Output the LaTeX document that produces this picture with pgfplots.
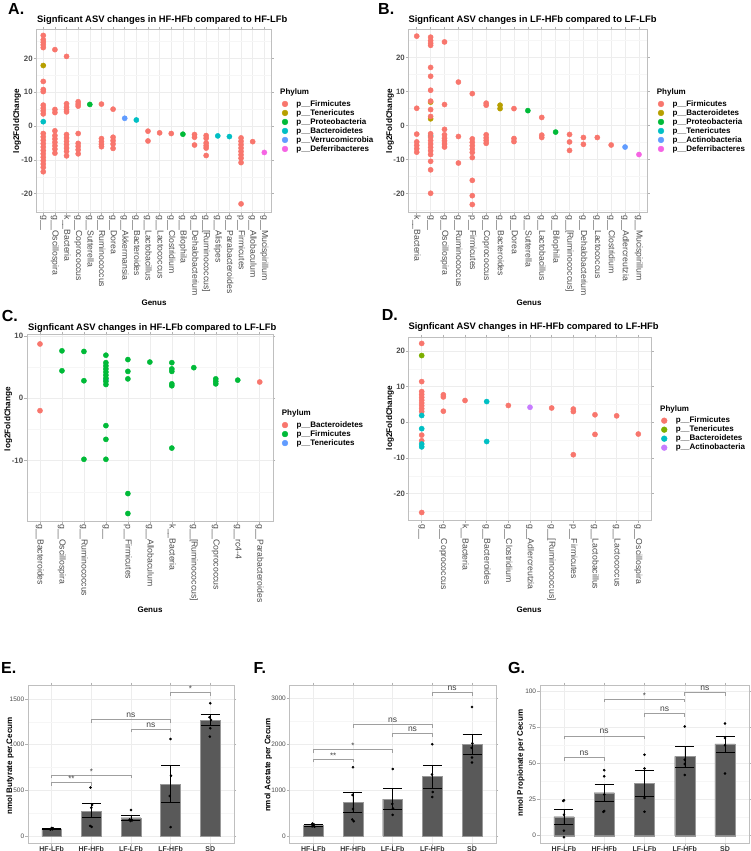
\documentclass[border=0pt]{standalone}
\usepackage{fontspec}
\setmainfont{Liberation Sans}
\usepackage{pgfplots}
\pgfplotsset{compat=1.18}
\newcommand\fs[1]{\fontsize{#1}{#1}\selectfont}
\definecolor{cR}{HTML}{F8766D}
\definecolor{cO}{HTML}{B79F00}
\definecolor{cG}{HTML}{00BA38}
\definecolor{cT}{HTML}{00BFC4}
\definecolor{cB}{HTML}{619CFF}
\definecolor{cM}{HTML}{F564E3}
\definecolor{cL}{HTML}{7CAE00}
\definecolor{cP}{HTML}{C77CFF}
\definecolor{barc}{HTML}{595959}
\pgfplotsset{
 volc/.style={scale only axis, anchor=north west,
  axis line style={gray!50, line width=0.6pt},
  xmajorgrids, ymajorgrids, yminorgrids,
  major grid style={gray!14, line width=0.5pt},
  minor grid style={gray!7, line width=0.3pt},
  tick align=outside, major tick length=2.5pt, minor tick length=0pt,
  tick style={gray!60, line width=0.5pt},
  xticklabel style={rotate=-90, anchor=west, font=\fs{8.7}, text=black!70, inner sep=1pt},
  yticklabel style={font=\bfseries\fs{7.8}, text=black!70, inner sep=1pt},
  legend style={draw=none, fill=none, anchor=north west, inner sep=0pt, outer sep=0pt,
   font=\bfseries\fs{8}, nodes={inner sep=0.5pt, text height=6.3pt, text depth=1.7pt},
   row sep=0pt, column sep=0pt},
  legend cell align=left},
 lg/.style={only marks, mark=*, mark size=2.9pt, color=#1,
  legend image code/.code={\draw[##1] plot coordinates {(0pt,0pt)}; \path[draw=none,fill=none] (-3pt,0pt) -- (11pt,0pt);}},
 pt/.style={only marks, mark=*, mark size=2.6pt, color=#1, forget plot},
 barax/.style={scale only axis, anchor=north west, xmin=0.4, xmax=5.6,
  xtick={1,...,5}, xticklabels={HF-LFb,HF-HFb,LF-LFb,LF-HFb,SD},
  axis line style={gray!50, line width=0.6pt},
  xmajorgrids, ymajorgrids, yminorgrids,
  major grid style={gray!14, line width=0.5pt},
  minor grid style={gray!7, line width=0.3pt},
  tick align=outside, major tick length=2.5pt, minor tick length=0pt,
  tick style={gray!60, line width=0.5pt},
  xticklabel style={font=\bfseries\fs{7}, text=black!80, inner sep=1pt},
  yticklabel style={font=\fs{6.5}, text=black!70, inner sep=1pt}},
 bars/.style={ybar, bar width=0.5, fill=barc, draw=black!40, line width=0.4pt,
  error bars/.cd, y dir=both, y explicit,
  error bar style={black, line width=0.5pt},
  error mark options={rotate=90, mark size=9.5pt, black, line width=0.5pt}},
 dots/.style={only marks, mark=*, mark size=1.1pt, black},
 brk/.style={gray!75, line width=0.6pt, no marks},
}
\begin{document}
\begin{tikzpicture}
\useasboundingbox (0pt,0pt) rectangle (750pt,-851pt);

% ---------------- A ----------------
\begin{axis}[volc, at={(36.3pt,-29pt)}, width=235pt, height=183pt,
 xmin=-0.6, xmax=19.6, ymin=-25.4, ymax=28.7,
 xtick={0,...,19},
 xticklabels={{g\_\_},{g\_\_Oscillospira},{k\_\_Bacteria},{g\_\_Coprococcus},{g\_\_Sutterella},{g\_\_Ruminococcus},{g\_\_Dorea},{g\_\_Akkermansia},{g\_\_Bacteroides},{g\_\_Lactobacillus},{g\_\_Lactococcus},{g\_\_Clostridium},{g\_\_Bilophila},{g\_\_Dehalobacterium},{g\_\_[Ruminococcus]},{g\_\_Alistipes},{g\_\_Parabacteroides},{p\_\_Firmicutes},{g\_\_Allobaculum},{g\_\_Mucispirillum}},
 ytick={-20,-10,0,10,20}, yticklabels={-20,-10,0,10,20},
 minor ytick={-25,-15,-5,5,15,25},
 legend style={at={(axis description cs:1.0455,0.615)}}]
\addlegendimage{lg=cR}\addlegendentry{p\_\_Firmicutes}
\addlegendimage{lg=cO}\addlegendentry{p\_\_Tenericutes}
\addlegendimage{lg=cG}\addlegendentry{p\_\_Proteobacteria}
\addlegendimage{lg=cT}\addlegendentry{p\_\_Bacteroidetes}
\addlegendimage{lg=cB}\addlegendentry{p\_\_Verrucomicrobia}
\addlegendimage{lg=cM}\addlegendentry{p\_\_Deferribacteres}
\addplot[pt=cR] coordinates {(0,26.8)(0,25.5)(0,24.8)(0,24.0)(0,23.2)(0,13.2)(0,10.8)(0,10.2)(0,6.2)(0,5.3)(0,4.5)(0,3.6)(0,-2.2)(0,-3.2)(0,-4.2)(0,-5.2)(0,-6.2)(0,-7.2)(0,-8.2)(0,-9.2)(0,-10.2)(0,-11.2)(0,-12.2)(0,-13.5)
(1,22.6)(1,4.9)(1,4.0)(1,-1.4)(1,-2.8)(1,-3.8)(1,-4.8)(1,-5.8)(1,-6.8)(1,-8.0)
(2,20.6)(2,6.6)(2,5.6)(2,4.8)(2,4.2)(2,-2.5)(2,-3.5)(2,-4.5)(2,-5.5)(2,-6.5)(2,-7.5)(2,-8.8)
(3,7.2)(3,6.5)(3,5.9)(3,-2.2)(3,-5.1)(3,-6.0)(3,-7.0)(3,-8.2)
(5,6.5)(5,-3.7)(5,-4.6)(5,-5.4)(5,-6.1)
(6,5.0)(6,-3.3)(6,-4.3)(6,-5.3)(6,-6.6)
(9,-1.5)(9,-4.4)(10,-2.0)(11,-2.2)
(13,-2.5)(13,-3.3)(13,-5.6)
(14,-2.8)(14,-3.6)(14,-5.0)(14,-5.8)(14,-6.5)(14,-8.7)
(17,-3.5)(17,-4.5)(17,-5.5)(17,-6.5)(17,-7.5)(17,-8.5)(17,-9.5)(17,-10.8)(17,-23.0)
(18,-4.6)};
\addplot[pt=cO] coordinates {(0,17.9)};
\addplot[pt=cG] coordinates {(4,6.4)(12,-2.4)};
\addplot[pt=cT] coordinates {(0,1.3)(8,1.8)(15,-2.9)(16,-3.1)};
\addplot[pt=cB] coordinates {(7,2.3)};
\addplot[pt=cM] coordinates {(19,-7.8)};
\end{axis}

% ---------------- B ----------------
\begin{axis}[volc, at={(408.4pt,-29pt)}, width=238.9pt, height=183pt,
 xmin=-0.6, xmax=16.6, ymin=-25.4, ymax=28.4,
 xtick={0,...,16},
 xticklabels={{k\_\_Bacteria},{g\_\_},{g\_\_Oscillospira},{g\_\_Ruminococcus},{p\_\_Firmicutes},{g\_\_Coprococcus},{g\_\_Bacteroides},{g\_\_Dorea},{g\_\_Sutterella},{g\_\_Lactobacillus},{g\_\_Bilophila},{g\_\_[Ruminococcus]},{g\_\_Dehalobacterium},{g\_\_Lactococcus},{g\_\_Clostridium},{g\_\_Adlercreutzia},{g\_\_Mucispirillum}},
 ytick={-20,-10,0,10,20}, yticklabels={-20,-10,0,10,20},
 minor ytick={-25,-15,-5,5,15,25},
 legend style={at={(axis description cs:1.0448,0.615)}}]
\addlegendimage{lg=cR}\addlegendentry{p\_\_Firmicutes}
\addlegendimage{lg=cO}\addlegendentry{p\_\_Bacteroidetes}
\addlegendimage{lg=cG}\addlegendentry{p\_\_Proteobacteria}
\addlegendimage{lg=cT}\addlegendentry{p\_\_Tenericutes}
\addlegendimage{lg=cB}\addlegendentry{p\_\_Actinobacteria}
\addlegendimage{lg=cM}\addlegendentry{p\_\_Deferribacteres}
\addplot[pt=cO] coordinates {(1,6.9)(1,2.0)(6,6.0)(6,5.0)};
\addplot[pt=cT] coordinates {(1,-3.0)};
\addplot[pt=cR] coordinates {(0,26.3)(0,5.1)(0,-2.5)(0,-4.8)(0,-5.8)(0,-6.8)(0,-7.8)
(1,26.0)(1,25.0)(1,24.2)(1,23.6)(1,17.1)(1,14.5)(1,10.4)(1,7.2)(1,4.7)(1,2.7)(1,-2.4)(1,-3.4)(1,-4.4)(1,-5.4)(1,-6.4)(1,-7.4)(1,-8.5)(1,-10.5)(1,-13.0)(1,-19.9)
(2,24.6)(2,6.2)(2,-1.1)(2,-2.7)(2,-3.7)(2,-4.5)(2,-5.4)(2,-6.3)
(3,12.8)(3,-3.2)(3,-11.0)
(4,9.4)(4,-3.9)(4,-4.9)(4,-5.9)(4,-6.9)(4,-7.9)(4,-9.4)(4,-16.1)(4,-20.6)(4,-23.2)
(5,6.6)(5,6.0)(5,-2.7)(5,-3.6)(5,-4.4)(5,-5.2)
(7,5.0)(7,-3.8)(7,-4.7)
(9,2.4)(9,-2.8)(9,-3.5)
(11,-2.6)(11,-4.8)(11,-7.3)
(12,-3.5)(12,-5.5)(13,-3.5)(14,-5.7)};
\addplot[pt=cG] coordinates {(8,4.4)(10,-1.9)};
\addplot[pt=cB] coordinates {(15,-6.3)};
\addplot[pt=cM] coordinates {(16,-8.5)};
\end{axis}

% ---------------- C ----------------
\begin{axis}[volc, at={(26.8pt,-334pt)}, width=246.1pt, height=187pt,
 xmin=-0.6, xmax=10.6, ymin=-19.7, ymax=10.3,
 xtick={0,...,10},
 xticklabels={{g\_\_Bacteroides},{g\_\_Oscillospira},{g\_\_Ruminococcus},{g\_\_},{p\_\_Firmicutes},{g\_\_Allobaculum},{k\_\_Bacteria},{g\_\_[Ruminococcus]},{g\_\_Coprococcus},{g\_\_rc4-4},{g\_\_Parabacteroides}},
 ytick={-10,0,10}, yticklabels={-10,0,10},
 minor ytick={-15,-5,5},
 legend style={at={(axis description cs:1.037,0.537)}}]
\addlegendimage{lg=cR}\addlegendentry{p\_\_Bacteroidetes}
\addlegendimage{lg=cG}\addlegendentry{p\_\_Firmicutes}
\addlegendimage{lg=cB}\addlegendentry{p\_\_Tenericutes}
\addplot[pt=cB] coordinates {(3,3.0)};
\addplot[pt=cR] coordinates {(0,8.7)(0,-2.0)(10,2.6)};
\addplot[pt=cG] coordinates {(1,7.6)(1,4.4)
(2,7.5)(2,2.8)(2,-9.8)
(3,6.9)(3,5.7)(3,5.2)(3,4.7)(3,4.2)(3,3.7)(3,3.2)(3,2.7)(3,2.2)(3,-4.4)(3,-6.6)(3,-9.8)
(4,6.2)(4,4.3)(4,3.1)(4,-15.3)(4,-18.5)
(5,5.8)
(6,5.7)(6,4.7)(6,4.3)(6,2.3)(6,2.0)(6,-8.0)
(7,4.9)
(8,3.1)(8,2.7)(8,2.3)
(9,2.9)};
\end{axis}

% ---------------- D ----------------
\begin{axis}[volc, at={(408.7pt,-337pt)}, width=242.6pt, height=183.7pt,
 xmin=-0.6, xmax=10.6, ymin=-27.6, ymax=23.9,
 xtick={0,...,10},
 xticklabels={{g\_\_},{g\_\_Coprococcus},{k\_\_Bacteria},{g\_\_Bacteroides},{g\_\_Clostridium},{g\_\_Adlercreutzia},{g\_\_[Ruminococcus]},{p\_\_Firmicutes},{g\_\_Lactobacillus},{g\_\_Lactococcus},{g\_\_Oscillospira}},
 ytick={-20,-10,0,10,20}, yticklabels={-20,-10,0,10,20},
 minor ytick={-25,-15,-5,5,15},
 legend style={at={(axis description cs:1.041,0.569)}}]
\addlegendimage{lg=cR}\addlegendentry{p\_\_Firmicutes}
\addlegendimage{lg=cL}\addlegendentry{p\_\_Tenericutes}
\addlegendimage{lg=cT}\addlegendentry{p\_\_Bacteroidetes}
\addlegendimage{lg=cP}\addlegendentry{p\_\_Actinobacteria}
\addplot[pt=cR] coordinates {(0,22.1)(0,11.4)(0,8.6)(0,7.8)(0,7.0)(0,6.2)(0,5.4)(0,4.6)(0,3.8)(0,3.0)(0,-3.6)(0,-5.2)(0,-25.3)
(1,7.7)(1,7.1)(1,3.1)
(2,6.1)(4,4.7)(6,4.0)
(7,3.7)(7,3.0)(7,-9.1)
(8,2.1)(8,-3.4)(9,1.8)(10,-3.3)};
\addplot[pt=cL] coordinates {(0,18.7)};
\addplot[pt=cT] coordinates {(0,1.9)(0,-1.8)(0,-6.1)(0,-6.9)(3,5.8)(3,-5.4)};
\addplot[pt=cP] coordinates {(5,4.2)};
\end{axis}

% ---------------- E ----------------
\begin{axis}[barax, at={(27.9pt,-685pt)}, width=206.1pt, height=158pt,
 ymin=-76.6, ymax=1653, ytick={0,500,1000,1500}, yticklabels={0,500,1000,1500},
 minor ytick={250,750,1250}]
\addplot[bars] coordinates {(1,77) += (0,8) -= (0,8) (2,270) += (0,85) -= (0,70) (3,200) += (0,25) -= (0,22) (4,565) += (0,205) -= (0,200) (5,1266) += (0,64) -= (0,58)};
\addplot[dots] coordinates {(0.97,70)(1.02,75)(0.99,80)(1.03,85)(1.0,88)
(1.98,530)(2.02,340)(2.0,310)(1.97,110)(2.01,100)
(3.0,285)(2.97,180)(3.03,172)(2.99,165)
(4.0,1062)(4.01,660)(3.98,438)(4.0,98)
(5.0,1453)(4.98,1300)(5.02,1270)(5.0,1180)(4.99,1088)};
\addplot[brk] coordinates {(1,548)(1,584)(2,584)(2,548)};
\addplot[brk] coordinates {(1,632)(1,668)(3,668)(3,632)};
\addplot[brk] coordinates {(2,1241)(2,1277)(4,1277)(4,1241)};
\addplot[brk] coordinates {(3,1135)(3,1171)(4,1171)(4,1135)};
\addplot[brk] coordinates {(4,1537)(4,1573)(5,1573)(5,1537)};
\node[anchor=south, inner sep=0.5pt, font=\fs{8}, text=black!75] at (axis cs:1.5,584) {**};
\node[anchor=south, inner sep=0.5pt, font=\fs{8}, text=black!75] at (axis cs:2,668) {*};
\node[anchor=south, inner sep=0.5pt, yshift=1.2pt, font=\fs{8.5}, text=black!75] at (axis cs:3,1277) {ns};
\node[anchor=south, inner sep=0.5pt, yshift=1.2pt, font=\fs{8.5}, text=black!75] at (axis cs:3.5,1171) {ns};
\node[anchor=south, inner sep=0.5pt, font=\fs{8}, text=black!75] at (axis cs:4.5,1573) {*};
\end{axis}

% ---------------- F ----------------
\begin{axis}[barax, at={(289.5pt,-685pt)}, width=206.3pt, height=158pt,
 ymin=-152.5, ymax=3290, ytick={0,1000,2000,3000}, yticklabels={0,1000,2000,3000},
 minor ytick={500,1500,2500}]
\addplot[bars] coordinates {(1,232) += (0,25) -= (0,25) (2,733) += (0,217) -= (0,213) (3,806) += (0,224) -= (0,221) (4,1293) += (0,257) -= (0,253) (5,1997) += (0,223) -= (0,207)};
\addplot[dots] coordinates {(0.98,270)(1.02,250)(1.0,230)(0.97,210)(1.03,200)
(2.0,1500)(1.99,893)(2.0,590)(1.98,360)(2.02,320)
(3.0,1460)(2.99,700)(3.01,600)(3.0,460)
(4.0,2000)(3.99,1340)(4.01,960)(4.0,850)
(5.0,2810)(5.01,2020)(4.99,1920)(5.0,1710)(5.0,1600)};
\addplot[brk] coordinates {(1,1605)(1,1678)(2,1678)(2,1605)};
\addplot[brk] coordinates {(1,1808)(1,1881)(3,1881)(3,1808)};
\addplot[brk] coordinates {(2,2360)(2,2433)(4,2433)(4,2360)};
\addplot[brk] coordinates {(3,2164)(3,2237)(4,2237)(4,2164)};
\addplot[brk] coordinates {(4,3057)(4,3130)(5,3130)(5,3057)};
\node[anchor=south, inner sep=0.5pt, font=\fs{8}, text=black!75] at (axis cs:1.5,1678) {**};
\node[anchor=south, inner sep=0.5pt, font=\fs{8}, text=black!75] at (axis cs:2,1881) {*};
\node[anchor=south, inner sep=0.5pt, yshift=1.2pt, font=\fs{8.5}, text=black!75] at (axis cs:3,2433) {ns};
\node[anchor=south, inner sep=0.5pt, yshift=1.2pt, font=\fs{8.5}, text=black!75] at (axis cs:3.5,2237) {ns};
\node[anchor=south, inner sep=0.5pt, yshift=1.2pt, font=\fs{8.5}, text=black!75] at (axis cs:4.5,3130) {ns};
\end{axis}

% ---------------- G ----------------
\begin{axis}[barax, at={(539.8pt,-685pt)}, width=209.4pt, height=158pt,
 ymin=-5.04, ymax=104.1, ytick={0,25,50,75,100}, yticklabels={0,25,50,75,100},
 minor ytick={12.5,37.5,62.5,87.5}]
\addplot[bars] coordinates {(1,13.1) += (0,5.4) -= (0,5.1) (2,29.7) += (0,6) -= (0,6.2) (3,36) += (0,9) -= (0,9) (4,54.8) += (0,7.2) -= (0,7.3) (5,63.4) += (0,5.6) -= (0,5.9)};
\addplot[dots] coordinates {(1.0,24.5)(0.98,24)(1.0,14.5)(1.0,3.5)(1.0,-1)
(2.0,45.3)(2.0,41)(2.0,28.5)(2.0,17)(1.98,16.5)
(3.0,56)(3.0,46.5)(3.0,26)(3.0,16.5)
(4.0,75.5)(4.0,52.5)(4.0,49.5)(4.0,42)
(5.0,77.5)(5.0,67.5)(5.0,62.5)(5.0,43)};
\addplot[brk] coordinates {(1,51.7)(1,54)(2,54)(2,51.7)};
\addplot[brk] coordinates {(1,66.7)(1,69)(3,69)(3,66.7)};
\addplot[brk] coordinates {(2,92.2)(2,94.5)(4,94.5)(4,92.2)};
\addplot[brk] coordinates {(3,82)(3,84.3)(4,84.3)(4,82)};
\addplot[brk] coordinates {(4,96.8)(4,99.1)(5,99.1)(5,96.8)};
\node[anchor=south, inner sep=0.5pt, yshift=1.2pt, font=\fs{8.5}, text=black!75] at (axis cs:1.5,54) {ns};
\node[anchor=south, inner sep=0.5pt, yshift=1.2pt, font=\fs{8.5}, text=black!75] at (axis cs:2,69) {ns};
\node[anchor=south, inner sep=0.5pt, font=\fs{8}, text=black!75] at (axis cs:3,94.5) {*};
\node[anchor=south, inner sep=0.5pt, yshift=1.2pt, font=\fs{8.5}, text=black!75] at (axis cs:3.5,84.3) {ns};
\node[anchor=south, inner sep=0.5pt, yshift=1.2pt, font=\fs{8.5}, text=black!75] at (axis cs:4.5,99.1) {ns};
\end{axis}

% ---------------- texts ----------------
\begin{scope}[every node/.style={inner sep=0pt}]
\node[anchor=base west, font=\bfseries\fs{16}] at (8pt,-15pt) {A.};
\node[anchor=base west, font=\bfseries\fs{16}] at (378pt,-15pt) {B.};
\node[anchor=base west, font=\bfseries\fs{16}] at (1.7pt,-321.7pt) {C.};
\node[anchor=base west, font=\bfseries\fs{16}] at (381.7pt,-320pt) {D.};
\node[anchor=base west, font=\bfseries\fs{16}] at (1pt,-673pt) {E.};
\node[anchor=base west, font=\bfseries\fs{16}] at (253.5pt,-673pt) {F.};
\node[anchor=base west, font=\bfseries\fs{16}] at (508pt,-673pt) {G.};
\node[anchor=base west, font=\bfseries\fs{9.4}] at (37pt,-23pt) {Signficant ASV changes in HF-HFb compared to HF-LFb};
\node[anchor=base west, font=\bfseries\fs{9.4}] at (408.3pt,-23pt) {Signficant ASV changes in LF-HFb compared to LF-LFb};
\node[anchor=base west, font=\bfseries\fs{9.4}] at (28pt,-330pt) {Signficant ASV changes in HF-LFb compared to LF-LFb};
\node[anchor=base west, font=\bfseries\fs{9.4}] at (408.3pt,-329pt) {Signficant ASV changes in HF-HFb compared to LF-HFb};
\node[font=\bfseries\fs{8}] at (154pt,-302.7pt) {Genus};
\node[font=\bfseries\fs{8}] at (529pt,-302.7pt) {Genus};
\node[font=\bfseries\fs{8}] at (150pt,-610pt) {Genus};
\node[font=\bfseries\fs{8}] at (529pt,-610pt) {Genus};
\node[rotate=90, font=\bfseries\fs{8.2}] at (17pt,-121pt) {log2FoldChange};
\node[rotate=90, font=\bfseries\fs{8.2}] at (390pt,-121pt) {log2FoldChange};
\node[rotate=90, font=\bfseries\fs{8.2}] at (8.3pt,-419pt) {log2FoldChange};
\node[rotate=90, font=\bfseries\fs{8.2}] at (390pt,-418pt) {log2FoldChange};
\node[rotate=90, font=\bfseries\fs{8}] at (10pt,-766pt) {nmol Butyrate per Cecum};
\node[rotate=90, font=\bfseries\fs{8}] at (268.3pt,-765pt) {nmol Acetate per Cecum};
\node[rotate=90, font=\bfseries\fs{8}] at (520.7pt,-763pt) {nmol Propionate per Cecum};
\node[anchor=base west, font=\bfseries\fs{8}] at (280pt,-94pt) {Phylum};
\node[anchor=base west, font=\bfseries\fs{8}] at (656.7pt,-94pt) {Phylum};
\node[anchor=base west, font=\bfseries\fs{8}] at (281.7pt,-415.7pt) {Phylum};
\node[anchor=base west, font=\bfseries\fs{8}] at (660pt,-411pt) {Phylum};
\end{scope}
\end{tikzpicture}
\end{document}
